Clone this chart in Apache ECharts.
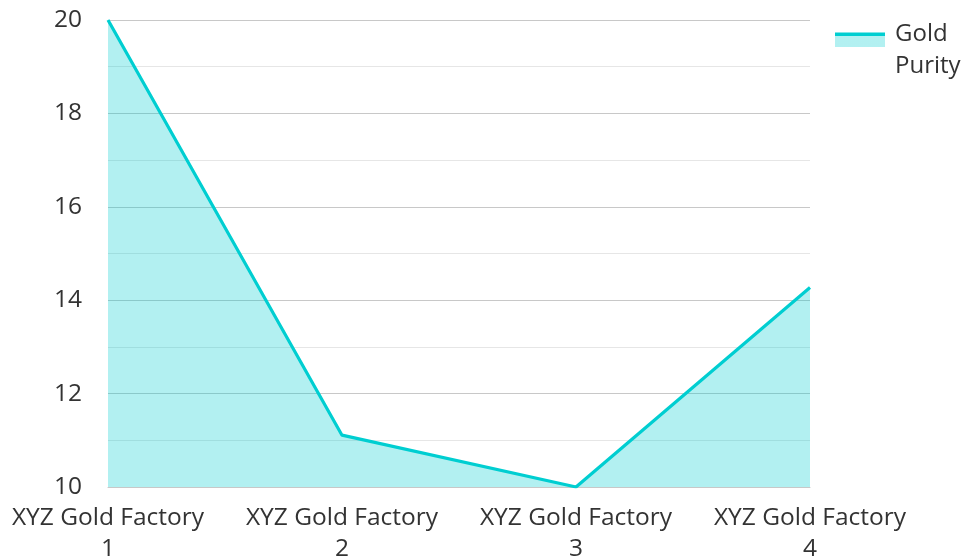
<!DOCTYPE html>
<html><head><meta charset="utf-8">
<script src="https://cdn.jsdelivr.net/npm/echarts@6/dist/echarts.min.js"></script>
<style>html,body{margin:0;padding:0;background:#fff}#c{width:964px;height:558px}</style>
</head><body><div id="c"></div>
<script>
const categories = ['XYZ Gold Factory\n1', 'XYZ Gold Factory\n2', 'XYZ Gold Factory\n3', 'XYZ Gold Factory\n4'];
const seriesName = 'Gold Purity';
const purity = [20, 11.11, 10, 14.27];
const yTicks = { min: 10, max: 20, interval: 2 };

const teal = '#00CED1';
const fill = 'rgba(0,206,209,0.3)';
const chart = echarts.init(document.getElementById('c'), null, { renderer: 'canvas' });
chart.setOption({
  animation: false,
  textStyle: { fontFamily: 'Open Sans' },
  grid: { left: 108, right: 154, top: 20, bottom: 71, containLabel: false, outerBoundsMode: 'none' },
  legend: {
    left: 830, top: 13, orient: 'vertical',
    itemWidth: 50, itemHeight: 35, itemGap: 10,
    icon: 'rect',
    formatter: n => n.replace(' ', '\n'),
    textStyle: { fontSize: 24, lineHeight: 32, color: '#333', fontFamily: 'Open Sans', padding: [0, 0, 0, 5] },
    data: [{
      name: seriesName,
      itemStyle: {
        color: { type: 'linear', x: 0, y: 0, x2: 0, y2: 1, colorStops: [
          { offset: 0, color: teal }, { offset: 0.086, color: teal },
          { offset: 0.086, color: fill }, { offset: 0.4, color: fill },
          { offset: 0.4, color: 'rgba(0,0,0,0)' }, { offset: 1, color: 'rgba(0,0,0,0)' }
        ] }
      }
    }]
  },
  xAxis: {
    type: 'category', data: categories, boundaryGap: false,
    axisLine: { show: true, lineStyle: { color: '#c8c8c8' } },
    axisTick: { show: false },
    axisLabel: { interval: 0, hideOverlap: false, fontSize: 24.5, lineHeight: 31, color: '#333', margin: 16, fontFamily: 'Open Sans' },
    splitLine: { show: false }
  },
  yAxis: {
    type: 'value', min: yTicks.min, max: yTicks.max, interval: yTicks.interval,
    axisLine: { show: false }, axisTick: { show: false },
    axisLabel: { fontSize: 24.5, color: '#333', margin: 26, fontFamily: 'Open Sans' },
    splitLine: { lineStyle: { color: '#c8c8c8', width: 1 } },
    minorTick: { show: false, splitNumber: 2 },
    minorSplitLine: { show: true, lineStyle: { color: '#e6e6e6', width: 1 } }
  },
  series: [{
    name: seriesName, type: 'line', data: purity,
    symbol: 'none', smooth: false,
    lineStyle: { color: teal, width: 3.2 },
    itemStyle: { color: teal },
    areaStyle: { color: fill, opacity: 1, origin: 'start' }
  }]
});
</script></body></html>
